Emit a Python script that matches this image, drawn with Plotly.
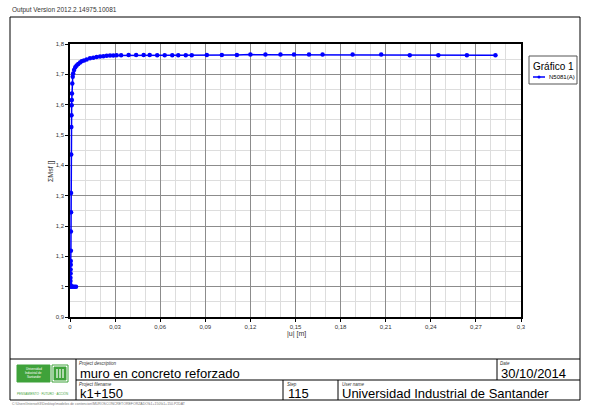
import plotly.graph_objects as go

# Load-displacement curve: |u| [m] against sum of Msf (phi-c reduction)
u_m = [0.0, 0.001, 0.002, 0.003, 0.004,
       0.0002, 0.0003, 0.0003, 0.0004, 0.0004, 0.0005, 0.0005, 0.0006, 0.0006,
       0.0007, 0.0007, 0.0008, 0.0009, 0.0010, 0.0011, 0.0012, 0.0013, 0.0015,
       0.0018, 0.0021, 0.0027, 0.0035, 0.0044, 0.0055, 0.0067, 0.0078, 0.0093,
       0.0111, 0.0133, 0.0155, 0.0177, 0.0200, 0.0222, 0.0244, 0.0266, 0.0288,
       0.031, 0.034, 0.039, 0.044, 0.049, 0.053, 0.058, 0.063, 0.068, 0.072,
       0.077, 0.081, 0.091, 0.101, 0.111, 0.120, 0.130, 0.140, 0.149, 0.159,
       0.168, 0.188, 0.207, 0.226, 0.245, 0.264, 0.283]
msf = [1.0, 1.0, 1.0, 1.0, 1.0,
       1.008, 1.019, 1.029, 1.043, 1.057, 1.072, 1.085, 1.118, 1.182,
       1.245, 1.309, 1.436, 1.526, 1.565, 1.598, 1.615, 1.637, 1.670,
       1.692, 1.703, 1.714, 1.723, 1.729, 1.734, 1.739, 1.743, 1.746,
       1.749, 1.753, 1.755, 1.757, 1.759, 1.760, 1.761, 1.762, 1.762,
       1.763, 1.763, 1.764, 1.764, 1.764, 1.764, 1.763, 1.763, 1.763, 1.763,
       1.763, 1.763, 1.764, 1.764, 1.764, 1.765, 1.765, 1.765, 1.765, 1.765,
       1.765, 1.765, 1.765, 1.763, 1.763, 1.763, 1.763]

series_name = "N5081(A)"
chart_title = "Gráfico 1"
x_title = "|u| [m]"
y_title = "ΣMsf []"

# title block contents
version_text = "Output Version 2012.2.14975.10081"
project_description = "muro en concreto reforzado"
project_filename = "k1+150"
step_value = "115"
user_name = "Universidad Industrial de Santander"
date_value = "30/10/2014"
file_path = "C:\\Users\\Intersoft3\\Desktop\\modelos de contencion\\MUROSCONCRETOREFORZADO\\k1+150\\k1+150.P2DAT"

W, H = 591, 406
L, R, T, B = 70, 70, 44, 89
PW, PH = W - L - R, H - T - B
FONT = "Liberation Sans, Arial, sans-serif"
BLUE = "#0000ff"


def px(x):
    return (x - L) / PW


def py(y):
    return (H - B - y) / PH


fig = go.Figure()
fig.add_trace(go.Scatter(
    x=u_m, y=msf, mode="lines+markers", name=series_name,
    line=dict(color=BLUE, width=1.5),
    marker=dict(color=BLUE, size=4.5, symbol="circle"),
    showlegend=False,
))

shapes = []
annotations = []


def line(x0, y0, x1, y1, color="black", width=1):
    shapes.append(dict(type="line", xref="paper", yref="paper",
                       x0=px(x0), y0=py(y0), x1=px(x1), y1=py(y1),
                       line=dict(color=color, width=width), layer="above"))


def rect(x0, y0, x1, y1, fill=None, color="black", width=1):
    shapes.append(dict(type="rect", xref="paper", yref="paper",
                       x0=px(x0), y0=py(y0), x1=px(x1), y1=py(y1),
                       fillcolor=fill if fill else "rgba(0,0,0,0)",
                       line=dict(color=color, width=width), layer="above"))


def text(x, y, s, size, color="black", anchor="left", angle=0, italic=False):
    annotations.append(dict(xref="paper", yref="paper", x=px(x), y=py(y),
                            text=s, showarrow=False, xanchor=anchor,
                            yanchor="middle", textangle=angle,
                            font=dict(family=FONT, size=size, color=color,
                                      style="italic" if italic else "normal")))


# outer frame and title block grid
rect(10, 17, 580, 400, width=1)
line(10, 359, 580, 359)
line(76, 380, 580, 380)
line(76, 359, 76, 400)
line(497, 359, 497, 380)
line(283, 380, 283, 400)
line(338, 380, 338, 400)

text(10, 10, version_text, 6.5, color="#333333")

# legend box
rect(529, 56, 577, 84, fill="white", color="#555555", width=1)
text(553, 66, chart_title, 10, anchor="center")
line(533, 77, 545, 77, color=BLUE, width=1.5)
shapes.append(dict(type="circle", xref="paper", yref="paper",
                   x0=px(537.5), x1=px(540.5), y0=py(75.5), y1=py(78.5),
                   fillcolor=BLUE, line=dict(color=BLUE, width=0), layer="above"))
text(547, 77, series_name, 6)

# axis titles
text(51, 172, y_title, 7, color="#333333", anchor="center", angle=-90)
text(296, 334, x_title, 7, color="#333333", anchor="center")

# title block labels and values
text(77, 363, "Project description", 4.5, color="#333333", italic=True)
text(78, 373, project_description, 13)
text(498, 363, "Date", 4.5, color="#333333", italic=True)
text(499, 373, date_value, 13)
text(77, 384, "Project filename", 4.5, color="#333333", italic=True)
text(78, 394, project_filename, 13)
text(285, 384, "Step", 4.5, color="#333333", italic=True)
text(286, 394, step_value, 13)
text(340, 384, "User name", 4.5, color="#333333", italic=True)
text(340, 394, user_name, 13)
text(10, 404, file_path, 3.5, color="#777777")

# university logo
GREEN = "#3fa23a"
rect(17, 365, 50, 382, fill=GREEN, color=GREEN)
text(33.5, 369, "Universidad", 3, color="white", anchor="center")
text(33.5, 373, "Industrial de", 3, color="white", anchor="center")
text(33.5, 377, "Santander", 3, color="white", anchor="center")
rect(52, 365, 68, 382, fill="white", color=GREEN)
rect(54, 367, 66, 380, fill=GREEN, color=GREEN)
for xb in (57, 60, 63):
    line(xb, 369, xb, 378, color="white", width=1.2)
text(42.5, 393, "PENSAMIENTO · FUTURO · ACCIÓN", 3, color=GREEN, anchor="center")

fig.update_layout(
    width=W, height=H,
    margin=dict(l=L, r=R, t=T, b=B, pad=0),
    paper_bgcolor="white", plot_bgcolor="white",
    separators=",.",
    showlegend=False,
    shapes=shapes, annotations=annotations,
    font=dict(family=FONT, size=6, color="#333333"),
)

fig.update_xaxes(
    range=[0, 0.3], dtick=0.03, tick0=0,
    showgrid=True, gridcolor="#8c8c8c", gridwidth=1,
    minor=dict(dtick=0.01, showgrid=True, gridcolor="#dddddd", gridwidth=1),
    showline=True, linecolor="black", linewidth=1.5, mirror=True,
    ticks="outside", ticklen=3, tickcolor="black", tickwidth=1,
    tickfont=dict(size=6, family=FONT, color="#333333"),
    zeroline=False,
)
fig.update_yaxes(
    range=[0.9, 1.8], dtick=0.1, tick0=0.9,
    showgrid=True, gridcolor="#8c8c8c", gridwidth=1,
    minor=dict(dtick=0.05, showgrid=True, gridcolor="#dddddd", gridwidth=1),
    showline=True, linecolor="black", linewidth=1.5, mirror=True,
    ticks="outside", ticklen=3, tickcolor="black", tickwidth=1,
    tickfont=dict(size=6, family=FONT, color="#333333"),
    zeroline=False,
)

fig.write_html("out.html")
